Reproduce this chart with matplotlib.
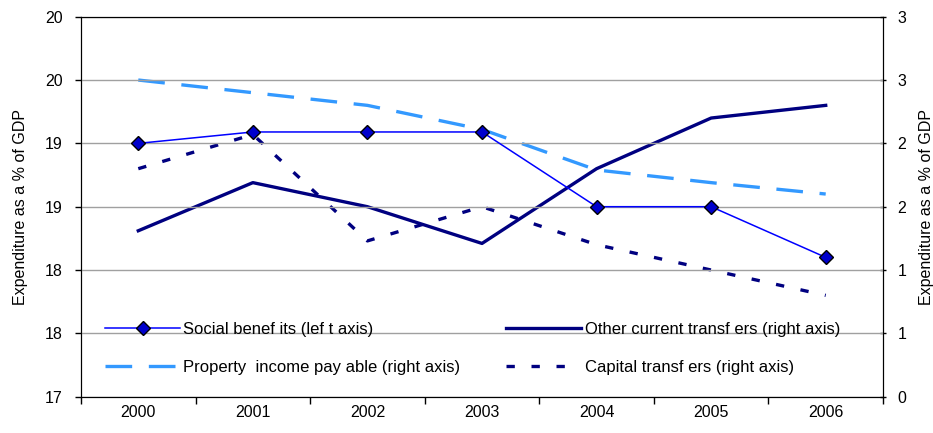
import matplotlib
matplotlib.use("Agg")
import matplotlib.pyplot as plt

years = ["2000", "2001", "2002", "2003", "2004", "2005", "2006"]
social_benefits = [19.0, 19.09, 19.09, 19.09, 18.5, 18.5, 18.10]
other_current = [1.31, 1.69, 1.50, 1.21, 1.80, 2.20, 2.30]
property_income = [2.50, 2.40, 2.30, 2.11, 1.79, 1.69, 1.60]
capital_transfers = [1.80, 2.07, 1.23, 1.50, 1.20, 1.00, 0.80]

left_ticks = [17.0, 17.5, 18.0, 18.5, 19.0, 19.5, 20.0]
left_tick_labels = ["17", "18", "18", "19", "19", "20", "20"]
right_ticks = [0.0, 0.5, 1.0, 1.5, 2.0, 2.5, 3.0]
right_tick_labels = ["0", "1", "1", "2", "2", "3", "3"]

plt.rcParams['font.family'] = ['Liberation Sans', 'DejaVu Sans']
FS = 11.5

fig = plt.figure(figsize=(9.33, 4.33), dpi=100)
ax = fig.add_axes([81/933, 1-396.7/433, 802/933, 380/433])
ax2 = ax.twinx()

x = list(range(len(years)))

ax.set_ylim(17, 20)
ax2.set_ylim(0, 3)
ax.set_xlim(-0.5, len(years) - 0.5)

ax.set_yticks(left_ticks)
ax.set_yticklabels(left_tick_labels)
ax2.set_yticks(right_ticks)
ax2.set_yticklabels(right_tick_labels)

ax.set_xticks([i - 0.5 for i in range(len(years) + 1)])
ax.set_xticklabels([])
ax.set_xticks(x, minor=True)
ax.set_xticklabels(years, minor=True)
ax.tick_params(axis='x', which='major', length=5, width=1, direction='out')
ax.tick_params(axis='x', which='minor', length=0, pad=6, labelsize=FS)
ax.tick_params(axis='y', length=4, width=1, direction='out', pad=9, labelsize=FS)
ax2.tick_params(axis='y', length=5, width=1, direction='inout', pad=8, labelsize=FS)

ax.grid(axis='y', color='#a0a0a0', linewidth=1.0)
ax.set_axisbelow(True)
for sp in ax.spines.values():
    sp.set_color('black')
for sp in ax2.spines.values():
    sp.set_color('black')

l_prop, = ax2.plot(x, property_income, color='#3399ff', linewidth=2.4,
                   dashes=(8, 5), label='Property  income pay able (right axis)')
l_other, = ax2.plot(x, other_current, color='#000080', linewidth=2.4,
                    label='Other current transf ers (right axis)')
l_cap, = ax2.plot(x, capital_transfers, color='#000080', linewidth=2.4,
                  dashes=(2.5, 5), label='Capital transf ers (right axis)')

ax.set_zorder(ax2.get_zorder() + 1)
ax.patch.set_visible(False)
l_soc, = ax.plot(x, social_benefits, color='#0000ff', linewidth=1.1, marker='D',
                 markersize=7.5, markerfacecolor='#0000cc', markeredgecolor='black',
                 markeredgewidth=1.0, label='Social benef its (lef t axis)')

ax.set_ylabel('Expenditure as a % of GDP', fontsize=FS, labelpad=12)
ax2.set_ylabel('Expenditure as a % of GDP', fontsize=FS, labelpad=9)

leg = ax.legend(handles=[l_soc, l_prop, l_other, l_cap], ncol=2, frameon=False,
                loc='upper left', bbox_to_anchor=(0.03, 0.197), borderpad=0,
                borderaxespad=0, handlelength=4.5, handletextpad=0.2,
                columnspacing=2.75, labelspacing=1.4, fontsize=12)

fig.savefig('out.png', dpi=100)
